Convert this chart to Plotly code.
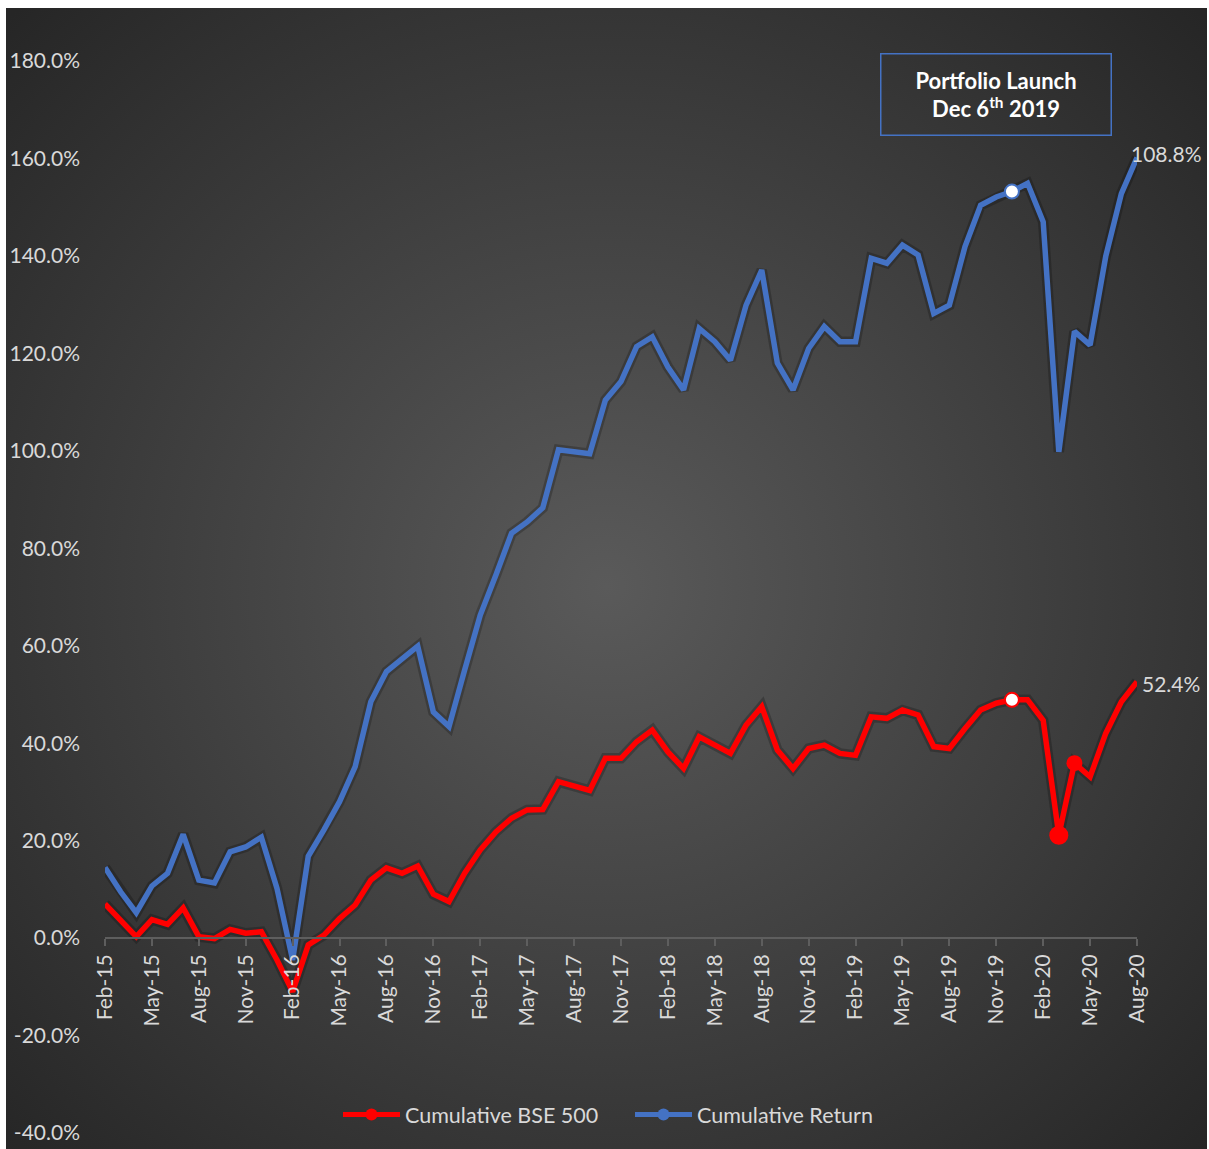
import base64
import pandas as pd
import plotly.graph_objects as go

# ---------------- data ----------------
months = pd.date_range("2015-02-01", periods=67, freq="MS").strftime("%b-%y").tolist()
tick_months = months[::3]

bse500 = [7.0, 3.7, 0.3, 3.8, 2.8, 6.2, 0.3, -0.1, 1.8, 1.0, 1.3, -4.5, -11.0,
          -1.4, 0.6, 4.0, 6.8, 11.9, 14.4, 13.3, 14.8, 9.0, 7.5, 13.3, 18.1,
          21.8, 24.6, 26.3, 26.4, 32.1, 31.3, 30.3, 36.9, 36.9, 40.3, 42.7,
          38.2, 34.8, 41.3, 39.6, 37.9, 43.7, 47.5, 38.6, 34.8, 38.9, 39.6,
          37.9, 37.5, 45.4, 45.1, 46.8, 45.8, 39.3, 38.9, 43.0, 46.8, 48.2,
          48.9, 48.9, 44.7, 21.1, 35.9, 33.1, 42.0, 48.5, 52.6]

portfolio = [14.5, 9.5, 5.2, 10.7, 13.3, 21.3, 11.9, 11.3, 17.7, 18.7, 20.7,
             10.2, -4.5, 16.8, 22.2, 28.0, 35.2, 48.5, 54.7, 57.4, 59.9, 46.4,
             43.4, 55.0, 66.3, 74.5, 83.1, 85.4, 88.3, 100.2, 99.8, 99.4,
             110.4, 114.2, 121.4, 123.4, 117.2, 112.5, 125.1, 122.4, 118.6,
             129.9, 137.1, 118.0, 112.5, 121.0, 125.5, 122.4, 122.4, 139.5,
             138.5, 142.2, 140.2, 128.2, 129.9, 141.9, 150.4, 152.1, 153.2,
             154.9, 147.0, 99.8, 124.5, 121.7, 139.9, 152.8, 160.2]

launch_idx = 58
covid_idx = [61, 62]
covid_sizes = [19, 16]
end_label_bse = "52.4%"
end_label_port = "108.8%"
y_ticks = list(range(-40, 181, 20))
y_ticktext = [f"{v:.1f}%" for v in y_ticks]

series_names = ["Cumulative BSE 500", "Cumulative Return"]
RED = "#ff0000"
BLUE = "#4472c4"
TXT = "#d9d9d9"
FONT = "Lato"

# ---------------- geometry (pixels) ----------------
W, H = 1209, 1149
PL, PR, PT, PB = 105, 1137, 61, 1133   # plot area


def px_x(px):
    return (px - PL) / (PR - PL)


def px_y(py):
    return (PB - py) / (PB - PT)


# background radial gradient as an SVG image
BX0, BY0, BX1, BY1 = 6, 8, 1207, 1165
bw, bh = BX1 - BX0, BY1 - BY0
svg = (f'<svg xmlns="http://www.w3.org/2000/svg" width="{bw}" height="{bh}" '
       f'viewBox="0 0 {bw} {bh}" preserveAspectRatio="none">'
       '<defs><radialGradient id="g" cx="50%" cy="50%" r="70%">'
       '<stop offset="0" stop-color="#5a5a5a"/>'
       '<stop offset="1" stop-color="#262626"/>'
       '</radialGradient></defs>'
       f'<rect x="0" y="0" width="{bw}" height="{bh}" fill="url(#g)"/></svg>')
bg_uri = "data:image/svg+xml;base64," + base64.b64encode(svg.encode()).decode()

fig = go.Figure()

# soft shadows
for vals in (portfolio, bse500):
    fig.add_trace(go.Scatter(x=months, y=vals, mode="lines", showlegend=False,
                             hoverinfo="skip",
                             line=dict(color="rgba(0,0,0,0.22)", width=10.5)))

# main lines (blue below red)
fig.add_trace(go.Scatter(x=months, y=portfolio, mode="lines", showlegend=False,
                         line=dict(color=BLUE, width=5.5), name=series_names[1]))
fig.add_trace(go.Scatter(x=months, y=bse500, mode="lines", showlegend=False,
                         line=dict(color=RED, width=5.5), name=series_names[0]))

# special markers
fig.add_trace(go.Scatter(x=[months[launch_idx]], y=[portfolio[launch_idx]],
                         mode="markers", showlegend=False, cliponaxis=False,
                         marker=dict(size=14, color="white", opacity=1,
                                     line=dict(color=BLUE, width=2))))
fig.add_trace(go.Scatter(x=[months[launch_idx]], y=[bse500[launch_idx]],
                         mode="markers", showlegend=False, cliponaxis=False,
                         marker=dict(size=14, color="white", opacity=1,
                                     line=dict(color=RED, width=2))))
fig.add_trace(go.Scatter(x=[months[i] for i in covid_idx],
                         y=[bse500[i] for i in covid_idx],
                         mode="markers", showlegend=False,
                         marker=dict(size=covid_sizes, color=RED, opacity=1,
                                     line=dict(width=0))))

# legend entries
fig.add_trace(go.Scatter(x=[None], y=[None], mode="lines+markers",
                         name=series_names[0], legendrank=1,
                         line=dict(color=RED, width=5),
                         marker=dict(size=12, color=RED)))
fig.add_trace(go.Scatter(x=[None], y=[None], mode="lines+markers",
                         name=series_names[1], legendrank=2,
                         line=dict(color=BLUE, width=5),
                         marker=dict(size=12, color=BLUE)))

annotations = [
    dict(x=months[-1], y=portfolio[-1], xref="x", yref="y", text=end_label_port,
         showarrow=False, xanchor="left", yanchor="middle", xshift=-8, yshift=4,
         font=dict(family=FONT, size=21, color=TXT)),
    dict(x=months[-1], y=bse500[-1], xref="x", yref="y", text=end_label_bse,
         showarrow=False, xanchor="left", yanchor="middle", xshift=3, yshift=-2,
         font=dict(family=FONT, size=21, color=TXT)),
    dict(x=px_x(996), y=px_y(94), xref="paper", yref="paper",
         text="<b>Portfolio Launch</b><br><b>Dec 6<sup>th</sup> 2019</b>",
         showarrow=False, xanchor="center", yanchor="middle", align="center",
         width=229, height=80, borderpad=0, bordercolor=BLUE, borderwidth=1.5,
         font=dict(family=FONT, size=22, color="white")),
]

fig.update_layout(
    width=W, height=H,
    margin=dict(l=PL, r=W - PR, t=PT, b=H - PB, pad=0, autoexpand=False),
    paper_bgcolor="white",
    plot_bgcolor="rgba(0,0,0,0)",
    font=dict(family=FONT, size=21, color=TXT),
    images=[dict(source=bg_uri, xref="paper", yref="paper",
                 x=px_x(BX0), y=px_y(BY0),
                 sizex=px_x(BX1) - px_x(BX0), sizey=px_y(BY0) - px_y(BY1),
                 xanchor="left", yanchor="top", sizing="stretch",
                 layer="below")],
    xaxis=dict(type="category", range=[0, len(months) - 1],
               tickmode="array", tickvals=tick_months, ticktext=tick_months,
               tickangle=-90, tickfont=dict(family=FONT, size=21, color=TXT),
               showline=True, linecolor="#5e5e5e", linewidth=1.5,
               ticks="outside", ticklen=7, tickwidth=1.5, tickcolor="#5e5e5e",
               showgrid=False, zeroline=False, automargin=False,
               anchor="free", position=(0 - (-40)) / (180 - (-40))),
    yaxis=dict(range=[-40, 180], tickmode="array", tickvals=y_ticks,
               ticktext=y_ticktext,
               tickfont=dict(family=FONT, size=21, color=TXT),
               showgrid=False, zeroline=False, showline=False,
               automargin=False, ticklabelstandoff=24),
    legend=dict(orientation="h", x=px_x(338), y=px_y(1135),
                xanchor="left", yanchor="bottom",
                entrywidth=220, entrywidthmode="pixels",
                bgcolor="rgba(0,0,0,0)",
                font=dict(family=FONT, size=21.5, color=TXT),
                itemwidth=57),
    annotations=annotations,
    showlegend=True,
)

fig.write_html("out.html", config={"displayModeBar": False},
               post_script="document.body.style.margin='0';")
